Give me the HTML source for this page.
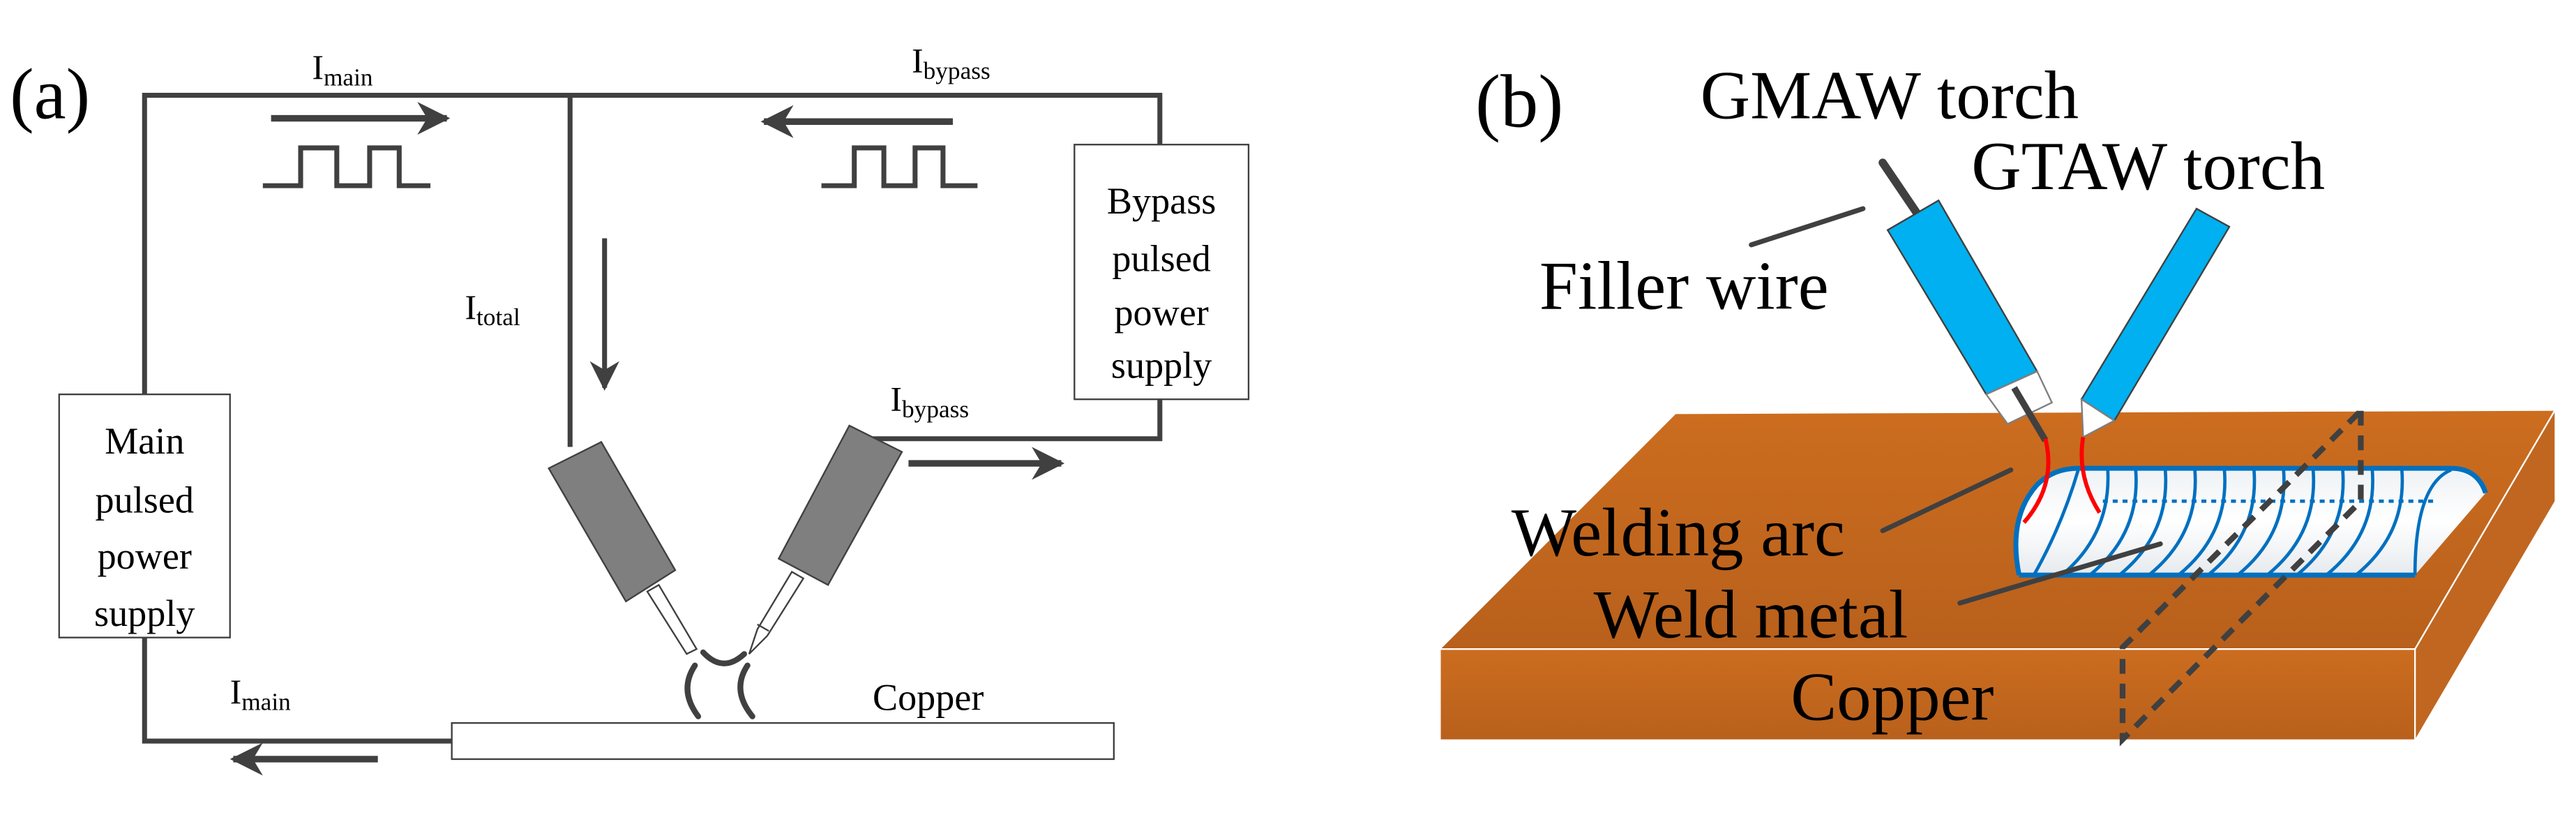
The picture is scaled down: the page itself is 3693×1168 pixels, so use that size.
<!DOCTYPE html>
<html><head><meta charset="utf-8"><style>html,body{margin:0;padding:0;background:#fff}svg{display:block}svg text{font-family:'Liberation Serif','DejaVu Serif','Times New Roman',serif !important}</style></head><body>
<svg width="3693" height="1168" viewBox="0 0 1568 496" preserveAspectRatio="none" xmlns="http://www.w3.org/2000/svg" style="font-family:'Liberation Serif','DejaVu Serif',serif">
<defs>
<marker id="ah" viewBox="0 0 10 10" refX="9" refY="5" markerWidth="5" markerHeight="5" orient="auto"><path d="M0,0 L10,5 L0,10 L3,5z" fill="#404040"/></marker>
<marker id="ah2" viewBox="0 0 10 10" refX="9" refY="5" markerWidth="6" markerHeight="6" orient="auto"><path d="M0,0 L10,5 L0,10 L3,5z" fill="#404040"/></marker>
<linearGradient id="cu" x1="0" y1="0" x2="0" y2="1"><stop offset="0" stop-color="#cc6d1f"/><stop offset="1" stop-color="#b8601c"/></linearGradient>
<linearGradient id="bead" x1="0" y1="0" x2="0" y2="1"><stop offset="0" stop-color="#eef2f5"/><stop offset="0.5" stop-color="#ffffff"/><stop offset="1" stop-color="#e6eaee"/></linearGradient>
</defs>
<g stroke="#404040" stroke-width="3" fill="none">
<polyline points="88,240 88,58 706,58 706,88"/>
<line x1="347" y1="58" x2="347" y2="272"/>
<polyline points="706,243 706,267 530,267"/>
<polyline points="88,388 88,451 275,451"/>
<polyline points="160,113 183,113 183,90 205,90 205,113 225,113 225,90 243,90 243,113 262,113"/>
<polyline points="500,113 520,113 520,90 538,90 538,113 557,113 557,90 574,90 574,113 595,113"/>
<line x1="165" y1="72" x2="272" y2="72" stroke-width="4" marker-end="url(#ah)"/>
<line x1="580" y1="74" x2="465" y2="74" stroke-width="4" marker-end="url(#ah)"/>
<line x1="368" y1="145" x2="368" y2="236" stroke-width="3" marker-end="url(#ah2)"/>
<line x1="553" y1="282" x2="646" y2="282" stroke-width="4" marker-end="url(#ah)"/>
<line x1="230" y1="462" x2="142" y2="462" stroke-width="4" marker-end="url(#ah)"/>
</g>
<rect x="36" y="240" width="104" height="148" fill="#fff" stroke="#404040" stroke-width="1"/>
<rect x="654" y="88" width="106" height="155" fill="#fff" stroke="#404040" stroke-width="1"/>
<rect x="275" y="440" width="403" height="22" fill="#fff" stroke="#404040" stroke-width="1"/>
<g font-size="23" text-anchor="middle" fill="#000">
<text x="88" y="276">Main</text><text x="88" y="312">pulsed</text><text x="88" y="346">power</text><text x="88" y="381">supply</text>
<text x="707" y="130">Bypass</text><text x="707" y="165">pulsed</text><text x="707" y="198">power</text><text x="707" y="230">supply</text>
<text x="565" y="432">Copper</text>
</g>
<g font-size="21" fill="#000">
<text x="190" y="48">I<tspan font-size="15" dy="4">main</tspan></text>
<text x="555" y="44">I<tspan font-size="15" dy="4">bypass</tspan></text>
<text x="283" y="194">I<tspan font-size="15" dy="4">total</tspan></text>
<text x="542" y="250">I<tspan font-size="15" dy="4">bypass</tspan></text>
<text x="140" y="428">I<tspan font-size="15" dy="4">main</tspan></text>
</g>
<text x="6" y="72" font-size="44">(a)</text>
<polygon points="334,285 366,269 411,347 381,366" fill="#7f7f7f" stroke="#404040" stroke-width="1"/>
<polygon points="394,360 401,356 424,395 418,398" fill="#fff" stroke="#404040" stroke-width="1"/>
<polygon points="517,259 549,275 504,356 474,340" fill="#7f7f7f" stroke="#404040" stroke-width="1"/>
<polygon points="482,348 489,352 467,387 456,398 461,383" fill="#fff" stroke="#404040" stroke-width="1"/>
<line x1="461" y1="380" x2="468" y2="384" stroke="#404040" stroke-width="1"/>
<g stroke="#404040" stroke-width="3.5" fill="none" stroke-linecap="round">
<path d="M428,397 Q440,410 453,398"/>
<path d="M423,405 Q413,420 425,436"/>
<path d="M455,405 Q445,420 458,436"/>
</g>
<text x="898" y="77" font-size="46">(b)</text>
<text x="1035" y="72" font-size="42">GMAW torch</text>
<text x="1200" y="115" font-size="42">GTAW torch</text>
<text x="937" y="188" font-size="42">Filler wire</text>
<polygon points="1020,252 1555,250 1470,395 877,395" fill="url(#cu)"/>
<polygon points="877,395 1470,395 1470,450 877,450" fill="url(#cu)"/>
<polygon points="1470,395 1555,250 1555,305 1470,450" fill="#c06620"/>
<polyline points="877,395 1470,395 1555,250" fill="none" stroke="#fff" stroke-width="1"/>
<line x1="1470" y1="395" x2="1470" y2="450" stroke="#fff" stroke-width="1"/>
<path d="M1262,285 L1492,285 Q1508,285 1513,300 L1470,350 L1229,350 Q1222,320 1240,295 Q1250,285 1262,285z" fill="url(#bead)"/>
<g stroke="#0070c0" stroke-width="3" fill="none">
<path d="M1229,350 Q1222,315 1240,295 Q1250,285 1265,285 L1492,285 Q1508,285 1513,300"/>
<line x1="1229" y1="350" x2="1470" y2="350"/>
<g stroke-width="2">
<path d="M1265,286 Q1255,320 1238,350"/>
<path d="M1283,286 Q1285,325 1255,350"/>
<path d="M1300,286 Q1303,325 1272,350"/>
<path d="M1318,286 Q1321,325 1290,350"/>
<path d="M1336,286 Q1339,325 1308,350"/>
<path d="M1354,286 Q1357,325 1326,350"/>
<path d="M1372,286 Q1375,325 1344,350"/>
<path d="M1390,286 Q1393,325 1362,350"/>
<path d="M1408,286 Q1411,325 1380,350"/>
<path d="M1426,286 Q1429,325 1398,350"/>
<path d="M1444,286 Q1447,325 1416,350"/>
<path d="M1462,286 Q1465,325 1434,350"/>
<path d="M1492,286 Q1470,295 1470,350"/>
</g>
<line x1="1280" y1="305" x2="1483" y2="305" stroke-dasharray="3,3" stroke-width="2"/>
</g>
<g stroke="#404040" stroke-width="3.5" fill="none" stroke-dasharray="9,6">
<polyline points="1437,250 1437,305 1292,450 1292,394 1437,250"/>
</g>
<line x1="1146" y1="99" x2="1167" y2="130" stroke="#404040" stroke-width="5" stroke-linecap="round"/>
<polygon points="1149,140 1180,122 1240,226 1209,240" fill="#00b0f0" stroke="#404040" stroke-width="1"/>
<polygon points="1209,240 1240,226 1249,245 1222,258" fill="#fff" stroke="#7f7f7f" stroke-width="1"/>
<line x1="1226" y1="236" x2="1245" y2="268" stroke="#404040" stroke-width="4"/>
<polygon points="1337,127 1357,138 1287,256 1267,243" fill="#00b0f0" stroke="#404040" stroke-width="1"/>
<polygon points="1267,243 1287,256 1268,266" fill="#fff" stroke="#7f7f7f" stroke-width="1"/>
<g stroke="#ff0000" stroke-width="2.5" fill="none">
<path d="M1245,267 Q1252,295 1232,318"/>
<path d="M1268,266 Q1264,290 1278,312"/>
</g>
<g stroke="#404040" stroke-width="3" stroke-linecap="round">
<line x1="1066" y1="149" x2="1134" y2="127"/>
<line x1="1146" y1="323" x2="1224" y2="286"/>
<line x1="1193" y1="367" x2="1315" y2="331"/>
</g>
<text x="920" y="338" font-size="42">Welding arc</text>
<text x="970" y="388" font-size="42">Weld metal</text>
<text x="1090" y="438" font-size="42">Copper</text>
</svg>
</body></html>
